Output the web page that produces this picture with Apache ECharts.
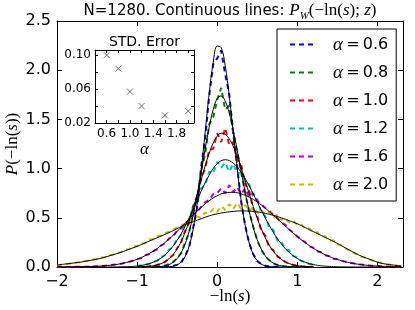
<!DOCTYPE html>
<html><head><meta charset="utf-8">
<script src="https://cdn.jsdelivr.net/npm/echarts@6/dist/echarts.min.js"></script>
<style>html,body{margin:0;padding:0;background:#fff}#c{width:415px;height:310px}</style>
</head><body><div id="c"></div>
<script>
// ---- data ----
const alphaLabels = ['0.6','0.8','1.0','1.2','1.6','2.0'];
const colors = ['#0000ff','#008000','#ff0000','#00bfbf','#bf00bf','#bfbf00'];

// x grids (positions on -ln(s))
function makeGrid(start, n, step){ const a=[]; for(let i=0;i<n;i++) a.push(+(start+i*step).toFixed(2)); return a; }
const xFine = makeGrid(-1.0, 45, 0.05);   // -1.0 .. 1.2
const xCoarse = makeGrid(-2.0, 44, 0.1);  // -2.0 .. 2.3
const xWide = makeGrid(-2.0, 87, 0.05);   // -2.0 .. 2.3

// continuous (theory) curves P_W(-ln(s); z)
const theory06 = [0,0,0,0,0,0,0,0.001,0.003,0.008,0.021,0.050,0.107,0.212,0.384,0.641,0.979,1.371,1.762,2.077,2.244,2.229,2.047,1.741,1.371,0.999,0.674,0.421,0.244,0.130,0.065,0.030,0.013,0.005,0.002,0.001,0,0,0,0,0,0,0,0,0];
const theory08 = [0,0,0,0,0.001,0.003,0.006,0.013,0.025,0.048,0.086,0.146,0.235,0.362,0.527,0.730,0.960,1.198,1.421,1.600,1.711,1.738,1.686,1.566,1.393,1.187,0.967,0.756,0.565,0.404,0.277,0.182,0.114,0.069,0.040,0.022,0.012,0.006,0.003,0.001,0.001,0,0,0,0];
const theory10 = [0.001,0.002,0.004,0.007,0.012,0.021,0.034,0.055,0.085,0.127,0.184,0.259,0.353,0.466,0.595,0.737,0.884,1.027,1.155,1.259,1.329,1.359,1.349,1.304,1.228,1.127,1.008,0.878,0.745,0.616,0.497,0.390,0.298,0.222,0.161,0.114,0.079,0.053,0.035,0.022,0.014,0.008,0.005,0.003,0.002];
const theory12 = [0,0,0,0,0,0,0,0,0.002,0.004,0.010,0.023,0.048,0.092,0.165,0.272,0.415,0.588,0.771,0.934,1.049,1.09,1.056,0.962,0.823,0.661,0.499,0.354,0.236,0.148,0.087,0.048,0.025,0.012,0.006,0.002,0.001,0,0,0,0,0,0,0];
const theory16 = [0,0.001,0.001,0.002,0.004,0.008,0.013,0.021,0.034,0.053,0.079,0.115,0.160,0.218,0.285,0.362,0.444,0.528,0.606,0.674,0.724,0.754,0.759,0.743,0.710,0.660,0.598,0.528,0.454,0.380,0.310,0.247,0.191,0.145,0.106,0.076,0.053,0.036,0.024,0.015,0.010,0.006,0.004,0.002];
const theory20 = [0.02,0.03,0.04,0.05,0.065,0.08,0.10,0.125,0.15,0.18,0.21,0.245,0.28,0.315,0.35,0.39,0.43,0.46,0.49,0.52,0.54,0.555,0.565,0.57,0.568,0.56,0.545,0.525,0.50,0.47,0.44,0.40,0.36,0.32,0.28,0.24,0.195,0.15,0.11,0.08,0.05,0.03,0.02,0.01];

// empirical (N=1280) histograms, dashed
const emp06 = [0,0,0,0,0,0,0,0,0.004,0.010,0.024,0.045,0.115,0.20,0.40,0.60,1.02,1.30,1.74,2.06,2.12,2.20,1.96,1.76,1.36,1.02,0.66,0.42,0.24,0.13,0.06,0.03,0.012,0.006,0.002,0,0,0,0,0,0,0,0,0,0];
const emp08 = [0,0,0,0,0.002,0.004,0.008,0.015,0.03,0.05,0.09,0.14,0.25,0.35,0.55,0.70,0.98,1.15,1.45,1.52,1.70,1.82,1.60,1.64,1.36,1.18,0.96,0.75,0.56,0.41,0.27,0.18,0.11,0.07,0.04,0.02,0.012,0.005,0.003,0.001,0,0,0,0,0];
const emp10 = [0.002,0.002,0.005,0.006,0.014,0.02,0.036,0.05,0.09,0.12,0.19,0.25,0.37,0.45,0.62,0.72,0.90,1.00,1.19,1.20,1.36,1.27,1.41,1.24,1.27,1.08,1.04,0.84,0.77,0.59,0.52,0.37,0.32,0.20,0.17,0.11,0.082,0.05,0.036,0.02,0.015,0.007,0.005,0.002,0.002];
const emp12 = [0.012,0.014,0.028,0.03,0.055,0.06,0.10,0.12,0.18,0.20,0.29,0.32,0.44,0.48,0.62,0.66,0.80,0.83,0.97,0.95,1.07,1.01,1.06,0.97,1.05,0.95,0.96,0.85,0.84,0.71,0.69,0.55,0.52,0.40,0.38,0.27,0.26,0.18,0.17,0.11,0.10,0.06,0.05,0.03,0.026];
const emp16 = [0,0.001,0.001,0.001,0.001,0.002,0.002,0.003,0.004,0.006,
  0.008,0.009,0.013,0.016,0.022,0.026,0.034,0.041,0.054,0.063,
  0.08,0.09,0.12,0.13,0.16,0.18,0.22,0.24,0.29,0.31,
  0.37,0.39,0.45,0.47,0.53,0.56,0.61,0.66,0.68,0.74,
  0.75,0.80,0.75,0.83,0.76,0.81,0.74,0.80,0.71,0.75,
  0.67,0.64,0.60,0.57,0.53,0.50,0.45,0.43,0.38,0.35,
  0.31,0.28,0.25,0.21,0.195,0.16,0.15,0.12,0.11,0.085,
  0.08,0.06,0.055,0.042,0.038,0.028,0.025,0.018,0.016,0.011,
  0.01,0.007,0.006,0.004,0.004,0.002,0.002];
const emp20 = [0.015,0.022,0.025,0.033,0.035,0.047,0.05,0.062,0.065,0.078,
  0.08,0.097,0.10,0.122,0.125,0.147,0.15,0.177,0.18,0.212,
  0.21,0.243,0.24,0.283,0.28,0.313,0.32,0.343,0.36,0.383,
  0.40,0.423,0.44,0.473,0.47,0.513,0.50,0.553,0.54,0.59,
  0.56,0.62,0.58,0.64,0.59,0.65,0.59,0.63,0.57,0.61,
  0.55,0.58,0.53,0.56,0.50,0.53,0.48,0.50,0.45,0.47,
  0.43,0.433,0.39,0.393,0.35,0.353,0.31,0.313,0.27,0.273,
  0.23,0.22,0.19,0.17,0.145,0.13,0.105,0.095,0.075,0.065,
  0.048,0.04,0.028,0.025,0.018,0.014,0.01];

// inset: STD. Error vs alpha
const stdAlpha = [0.6,0.8,1.0,1.2,1.6,2.0];
const stdErr = [0.100,0.084,0.057,0.040,0.029,0.034];

// tick labels
const mainXTicks = [-2,-1,0,1,2];
const insetXLabels = ['0.6','1.0','1.4','1.8'];
const insetYLabels = ['0.02','0.06','0.10'];

// ---- build ----
const empSets = [[xFine,emp06],[xFine,emp08],[xFine,emp10],[xFine,emp12],[xWide,emp16],[xWide,emp20]];
const thSets = [[xFine,theory06],[xFine,theory08],[xFine,theory10],[xCoarse,theory12],[xCoarse,theory16],[xCoarse,theory20]];
const pairs = (xs, ys) => xs.map((x,i)=>[x, ys[i]]);
const names = alphaLabels.map(a => 'α=' + a);

const MATH = 'Liberation Serif';
const SANS = 'DejaVu Sans';
const axBase = {
  axisLine:{show:true,onZero:false,lineStyle:{color:'#000',width:1}},
  axisTick:{show:true,inside:true,length:5,lineStyle:{color:'#000',width:1}},
  splitLine:{show:false}
};
const minus = v => (v < 0 ? '\u2212' + (-v) : '' + v);

const series = [];
empSets.forEach((s,i)=>{
  series.push({name:names[i], type:'line', xAxisIndex:0, yAxisIndex:0, data:pairs(s[0],s[1]),
    symbol:'none', showSymbol:false, z:2,
    lineStyle:{color:colors[i], width:2, type:[5,4]}, itemStyle:{color:colors[i]}});
});
thSets.forEach((s,i)=>{
  series.push({name:'th'+i, type:'line', xAxisIndex:0, yAxisIndex:0, data:pairs(s[0],s[1]),
    symbol:'none', showSymbol:false, smooth:0.4, z:3,
    lineStyle:{color:'#000', width:1}});
});
series.push({name:'std', type:'scatter', xAxisIndex:2, yAxisIndex:2,
  data:pairs(stdAlpha,stdErr), symbol:'path://M0,0L10,10M10,0L0,10', symbolSize:6,
  itemStyle:{color:'none', borderColor:'#333', borderWidth:0.9}, z:6});

const option = {
  animation:false,
  backgroundColor:'#fff',
  grid:[
    {left:57, right:12, top:21, bottom:43},
    {left:95, top:50, width:99, height:73, show:true, backgroundColor:'#fff', borderWidth:0, z:5}
  ],
  xAxis:[
    Object.assign({}, axBase, {gridIndex:0, type:'value', position:'bottom', min:-2, max:2.32, interval:1,
      axisLabel:{fontSize:16, fontFamily:SANS, color:'#000', margin:7,
        formatter:v => mainXTicks.includes(v) ? minus(v) : ''}}),
    Object.assign({}, axBase, {gridIndex:0, type:'value', position:'top', min:-2, max:2.32, interval:1, axisLabel:{show:false}}),
    Object.assign({}, axBase, {gridIndex:1, type:'value', position:'bottom', min:0.4, max:2.1, interval:0.2,
      axisTick:{show:true,inside:true,length:3,lineStyle:{color:'#000'}},
      axisLabel:{fontSize:12, fontFamily:SANS, color:'#000', margin:5,
        formatter:v => insetXLabels.includes(v.toFixed(1)) ? v.toFixed(1) : ''}, z:6}),
    Object.assign({}, axBase, {gridIndex:1, type:'value', position:'top', min:0.4, max:2.1, interval:0.2,
      axisTick:{show:true,inside:true,length:3,lineStyle:{color:'#000'}}, axisLabel:{show:false}, z:6})
  ],
  yAxis:[
    Object.assign({}, axBase, {gridIndex:0, type:'value', position:'left', min:0, max:2.5, interval:0.5,
      axisLabel:{fontSize:16, fontFamily:SANS, color:'#000', margin:6, formatter:v => v.toFixed(1)}}),
    Object.assign({}, axBase, {gridIndex:0, type:'value', position:'right', min:0, max:2.5, interval:0.5, axisLabel:{show:false}}),
    Object.assign({}, axBase, {gridIndex:1, type:'value', position:'left', min:0.02, max:0.106, interval:0.02,
      axisTick:{show:true,inside:true,length:3,lineStyle:{color:'#000'}},
      axisLabel:{fontSize:12, fontFamily:SANS, color:'#000', margin:4,
        formatter:v => insetYLabels.includes(v.toFixed(2)) ? v.toFixed(2) : ''}, z:6}),
    Object.assign({}, axBase, {gridIndex:1, type:'value', position:'right', min:0.02, max:0.106, interval:0.02,
      axisTick:{show:true,inside:true,length:3,lineStyle:{color:'#000'}}, axisLabel:{show:false}, z:6})
  ],
  legend:{
    data:names, orient:'vertical', left:277, top:29,
    itemWidth:24, itemHeight:14, itemGap:9,
    padding:[6,8,7,12], borderColor:'#000', borderWidth:1, backgroundColor:'#fff', borderRadius:0,
    selectedMode:false,
    itemStyle:{opacity:0},
    formatter:name => '{a|α}{b|\u2009=\u2009' + name.split('=')[1] + '}',
    textStyle:{rich:{
      a:{fontFamily:MATH, fontStyle:'italic', fontSize:19, color:'#000', lineHeight:16, padding:[0,0,0,14]},
      b:{fontFamily:SANS, fontSize:16, color:'#000', lineHeight:16}
    }}
  },
  graphic:[
    {type:'text', x:230, y:11, z:10, style:{
      text:'{n|N=1280. Continuous lines: }{i|P}{s|W}{r|(\u2212ln(}{i|s}{r|); }{i|z}{r|)}',
      align:'center', verticalAlign:'middle',
      rich:{
        n:{fontFamily:SANS, fontSize:15, fill:'#000', lineHeight:22},
        i:{fontFamily:MATH, fontStyle:'italic', fontSize:17, fill:'#000', lineHeight:22},
        r:{fontFamily:MATH, fontSize:17, fill:'#000', lineHeight:22},
        s:{fontFamily:MATH, fontStyle:'italic', fontSize:11, fill:'#000', verticalAlign:'bottom', lineHeight:11}
      }}},
    {type:'text', x:230, y:297, z:10, style:{
      text:'{r|\u2212ln(}{i|s}{r|)}', align:'center', verticalAlign:'middle',
      rich:{ r:{fontFamily:MATH, fontSize:17, fill:'#000'}, i:{fontFamily:MATH, fontStyle:'italic', fontSize:17, fill:'#000'} }}},
    {type:'text', x:13, y:144, rotation:Math.PI/2, z:10, style:{
      text:'{i|P}{r|(\u2212ln(}{i|s}{r|))}', align:'center', verticalAlign:'middle',
      rich:{ r:{fontFamily:MATH, fontSize:17, fill:'#000'}, i:{fontFamily:MATH, fontStyle:'italic', fontSize:17, fill:'#000'} }}},
    {type:'text', x:144.5, y:42, z:10, style:{
      text:'STD. Error', align:'center', verticalAlign:'middle', fontFamily:SANS, fontSize:14, fill:'#000'}},
    {type:'text', x:144.5, y:150, z:10, style:{
      text:'α', align:'center', verticalAlign:'middle', fontFamily:MATH, fontStyle:'italic', fontSize:17, fill:'#000'}}
  ],
  series:series
};
const chart = echarts.init(document.getElementById('c'), null, {renderer:'canvas'});
chart.setOption(option);
</script>
</body></html>
